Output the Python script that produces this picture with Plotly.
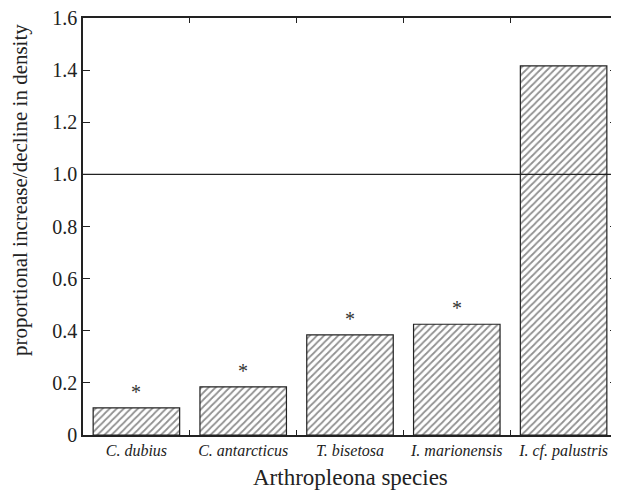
import plotly.graph_objects as go

species = ["C. dubius", "C. antarcticus", "T. bisetosa", "I. marionensis", "I. cf. palustris"]
values = [0.104, 0.185, 0.384, 0.425, 1.416]
significant = [True, True, True, True, False]
y_ticks = [0, 0.2, 0.4, 0.6, 0.8, 1.0, 1.2, 1.4, 1.6]
y_tick_labels = ["0", "0.2", "0.4", "0.6", "0.8", "1.0", "1.2", "1.4", "1.6"]
reference_level = 1.0

FONT = "Liberation Serif"
INK = "#222"

fig = go.Figure()
fig.add_trace(go.Bar(
    x=species,
    y=values,
    width=0.81,
    marker=dict(
        color="white",
        line=dict(color=INK, width=1.2),
        pattern=dict(shape="/", fgcolor=INK, bgcolor="white", size=5, solidity=0.35),
    ),
    showlegend=False,
    hoverinfo="skip",
))

for sp, v, sig in zip(species, values, significant):
    if sig:
        fig.add_annotation(x=sp, y=v, text="*", showarrow=False, yanchor="bottom",
                           yshift=3, font=dict(family=FONT, size=20, color="#333"))

fig.add_shape(type="line", xref="paper", x0=0, x1=1, yref="y", y0=reference_level, y1=reference_level,
              line=dict(color=INK, width=1.3))

# axis titles
fig.add_annotation(xref="paper", yref="paper", x=0, y=0.5875, xshift=-63,
                   text="proportional increase/decline in density", textangle=-90,
                   showarrow=False, xanchor="center", yanchor="middle",
                   font=dict(family=FONT, size=21, color=INK))
fig.add_annotation(xref="paper", yref="paper", x=0.5, y=0, yshift=-42,
                   text="Arthropleona species",
                   showarrow=False, xanchor="center", yanchor="middle",
                   font=dict(family=FONT, size=23, color=INK))

fig.update_layout(
    width=611, height=484,
    margin=dict(l=75, r=2, t=10, b=57),
    plot_bgcolor="white", paper_bgcolor="white",
    font=dict(family=FONT, color=INK),
)
fig.update_xaxes(
    automargin=False, ticklabeloverflow="allow",
    showline=True, linecolor=INK, linewidth=1.5, mirror="ticks",
    ticks="inside", tickson="boundaries", ticklen=5, tickwidth=1.2, tickcolor=INK,
    tickfont=dict(family=FONT, size=16, style="italic", color=INK),
    showgrid=False,
)
fig.update_yaxes(
    automargin=False, ticklabeloverflow="allow",
    range=[0, 1.6], tickvals=y_ticks, ticktext=y_tick_labels,
    showline=True, linecolor=INK, linewidth=1.5, mirror="ticks",
    ticks="inside", ticklen=7, tickwidth=1.2, tickcolor=INK,
    tickfont=dict(family=FONT, size=20, color=INK),
    showgrid=False, zeroline=False,
)

fig.write_html("out.html")
